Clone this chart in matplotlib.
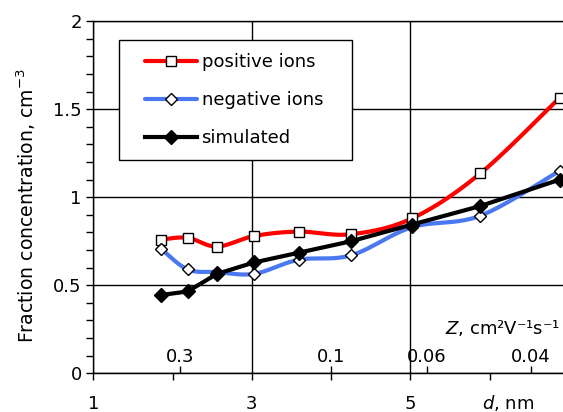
import numpy as np
import matplotlib.pyplot as plt
from matplotlib.ticker import MultipleLocator, FixedLocator
from matplotlib.patches import Rectangle

# particle diameter d, nm
d = [1.86, 2.19, 2.56, 3.03, 3.59, 4.25, 5.02, 5.88, 6.88]
positive = [0.76, 0.77, 0.72, 0.78, 0.805, 0.79, 0.88, 1.135, 1.565]
negative = [0.705, 0.59, 0.575, 0.565, 0.645, 0.67, 0.83, 0.895, 1.15]
simulated = [0.445, 0.465, 0.565, 0.63, 0.685, 0.75, 0.845, 0.95, 1.10]

x_ticks = [1, 3, 5]
x_tick_labels = ["1", "3", "5"]
x_minor = [2, 4, 6]
y_ticks = [0, 0.5, 1, 1.5, 2]
y_tick_labels = ["0", "0.5", "1", "1.5", "2"]

# mobility Z marks, placed at the matching diameters
z_pos = [2.09, 4.0, 5.21, 6.52]
z_labels = ["0.3", "0.1", "0.06", "0.04"]


def smooth(x, y, n=24):
    # bezier spline through the points (spreadsheet style smoothed line)
    p = np.column_stack([x, y]).astype(float)
    p = np.vstack([p[0], p, p[-1]])
    t = np.linspace(0, 1, n)[:, None]
    out = []
    for i in range(1, len(p) - 2):
        b0, b3 = p[i], p[i + 1]
        b1 = b0 + (p[i + 1] - p[i - 1]) / 6
        b2 = b3 - (p[i + 2] - p[i]) / 6
        seg = (1 - t) ** 3 * b0 + 3 * (1 - t) ** 2 * t * b1 + 3 * (1 - t) * t**2 * b2 + t**3 * b3
        out.append(seg)
    out = np.vstack(out)
    return out[:, 0], out[:, 1]


plt.rcParams["font.family"] = "DejaVu Sans"
plt.rcParams["font.size"] = 13

fig = plt.figure(figsize=(5.63, 4.12), dpi=100)
ax = fig.add_axes([0.1657, 0.0939, 0.8451, 0.8546])

red = "#ff0000"
blue = "#4a78f0"

xs, ys = smooth(d, positive)
pos_line, = ax.plot(xs, ys, color=red, lw=3, solid_capstyle="round")
pos_pts, = ax.plot(d, positive, ls="none", marker="s", ms=6.5, mfc="white", mec="black", mew=1)

xs, ys = smooth(d, negative)
neg_line, = ax.plot(xs, ys, color=blue, lw=3, solid_capstyle="round")
neg_pts, = ax.plot(d, negative, ls="none", marker="D", ms=6.2, mfc="white", mec="black", mew=1)

sim, = ax.plot(d, simulated, color="black", lw=3, marker="D", ms=7.5, mfc="black", mec="black")

ax.set_xlim(1, 7)
ax.set_ylim(0, 2)
ax.xaxis.set_major_locator(FixedLocator(x_ticks))
ax.set_xticklabels(x_tick_labels)
ax.xaxis.set_minor_locator(FixedLocator(x_minor))
ax.set_yticks(y_ticks)
ax.set_yticklabels(y_tick_labels)
ax.yaxis.set_minor_locator(MultipleLocator(0.1))
ax.tick_params(which="both", direction="out", length=5, width=1, color="black")
ax.tick_params(axis="x", pad=10.5)
ax.tick_params(axis="y", pad=3.3)
ax.grid(True, which="major", color="black", lw=1)
for s in ax.spines.values():
    s.set_color("black")
    s.set_linewidth(1)

# Z scale drawn inside the plot along the bottom axis
sec = ax.secondary_xaxis("bottom")
sec.set_xticks(z_pos, labels=z_labels)
sec.xaxis.set_minor_locator(FixedLocator([]))
sec.tick_params(direction="in", length=5, width=1, pad=-18.5)

ax.text(6.885, 0.257, "$Z$, cm²V⁻¹s⁻¹", ha="right", va="center")
ax.annotate("$d$, nm", xy=(6.23, 0), xytext=(0, -14.5), textcoords="offset points",
            ha="center", va="top")

ax.set_ylabel("Fraction concentration, cm$^{-3}$", fontsize=13.6)
ax.yaxis.set_label_coords(-0.116, 0.475)

# legend box
ax.add_patch(Rectangle((0.0546, 0.6058), 0.4897, 0.3408, transform=ax.transAxes,
                       facecolor="white", edgecolor="black", lw=1, zorder=4))
ax.legend([(pos_line, pos_pts), (neg_line, neg_pts), sim],
          ["positive ions", "negative ions", "simulated"],
          loc="upper left", bbox_to_anchor=(0.1087, 0.9099), borderaxespad=0, borderpad=0,
          frameon=False, numpoints=1, handlelength=2.88, handletextpad=0.25,
          labelspacing=1.11, fontsize=13)

fig.savefig("out.png", dpi=100)
